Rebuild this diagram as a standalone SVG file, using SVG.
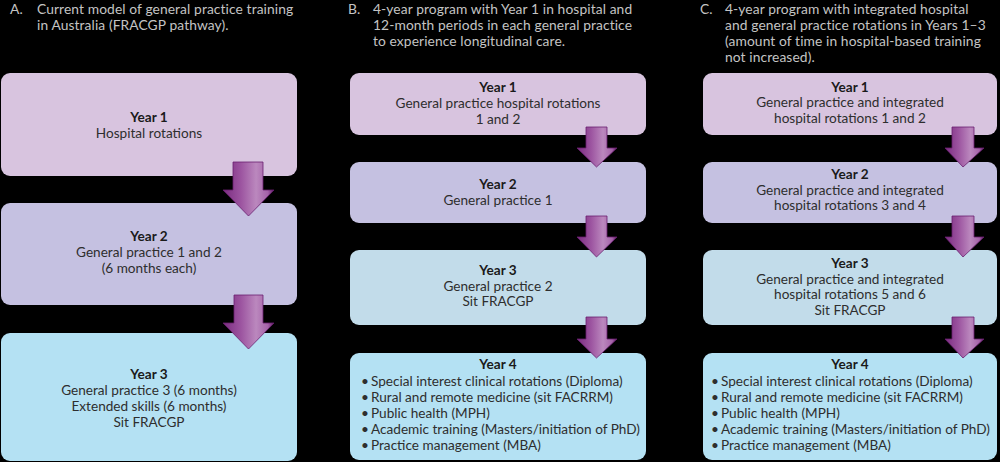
<svg xmlns="http://www.w3.org/2000/svg" width="1000" height="462" viewBox="0 0 1000 462">
<defs>
<linearGradient id="arr" x1="0" y1="0" x2="1" y2="0">
<stop offset="0" stop-color="#7a2c80"/>
<stop offset="0.35" stop-color="#9c54a0"/>
<stop offset="0.65" stop-color="#bb88be"/>
<stop offset="0.88" stop-color="#a462a8"/>
<stop offset="1" stop-color="#5e1865"/>
</linearGradient>
<style>
.hd{font-family:Lato,"Liberation Sans",sans-serif;font-size:13.8px;fill:#c4c4c4;letter-spacing:0.1px}
.t{font-family:Lato,"Liberation Sans",sans-serif;font-size:13.6px;fill:#2e2e2e;text-anchor:middle}
.b{font-weight:bold;fill:#1a1a1a}
.l{font-family:Lato,"Liberation Sans",sans-serif;font-size:13.6px;fill:#2e2e2e}
.y1{fill:#d8c4df}
.y2{fill:#c5c1e1}
.y3a{fill:#b4e1f3}
.y3{fill:#c2dcea}
.y4{fill:#b4e1f3}
.arw{fill:url(#arr);stroke:#6a1f70;stroke-width:0.8}
</style>
</defs>
<rect width="1000" height="462" fill="#000"/>
<g id="headers">
<text class="hd" x="10" y="14">A.</text>
<text class="hd" x="37" y="14">Current model of general practice training</text>
<text class="hd" x="37" y="30">in Australia (FRACGP pathway).</text>
<text class="hd" x="348" y="14">B.</text>
<text class="hd" x="373" y="14">4-year program with Year 1 in hospital and</text>
<text class="hd" x="373" y="30">12-month periods in each general practice</text>
<text class="hd" x="373" y="46">to experience longitudinal care.</text>
<text class="hd" x="700" y="14">C.</text>
<text class="hd" x="725" y="14">4-year program with integrated hospital</text>
<text class="hd" x="725" y="30">and general practice rotations in Years 1–3</text>
<text class="hd" x="725" y="46">(amount of time in hospital-based training</text>
<text class="hd" x="725" y="62">not increased).</text>
</g>
<g id="a-year1">
<rect class="y1" x="1" y="73" width="296" height="103" rx="9"/>
<text class="t b" x="149" y="122">Year 1</text>
<text class="t" x="149" y="138">Hospital rotations</text>
</g>
<g id="a-year2">
<rect class="y2" x="1" y="203" width="296" height="102" rx="9"/>
<text class="t b" x="149" y="241">Year 2</text>
<text class="t" x="149" y="257">General practice 1 and 2</text>
<text class="t" x="149" y="273">(6 months each)</text>
</g>
<g id="a-year3">
<rect class="y3a" x="1" y="333" width="296" height="128" rx="9"/>
<text class="t b" x="149" y="379">Year 3</text>
<text class="t" x="149" y="395">General practice 3 (6 months)</text>
<text class="t" x="149" y="411">Extended skills (6 months)</text>
<text class="t" x="149" y="427">Sit FRACGP</text>
</g>
<g id="b-year1">
<rect class="y1" x="350" y="73" width="296" height="62" rx="9"/>
<text class="t b" x="498" y="92">Year 1</text>
<text class="t" x="498" y="108">General practice hospital rotations</text>
<text class="t" x="498" y="124">1 and 2</text>
</g>
<g id="b-year2">
<rect class="y2" x="350" y="162" width="296" height="61" rx="9"/>
<text class="t b" x="498" y="189">Year 2</text>
<text class="t" x="498" y="205">General practice 1</text>
</g>
<g id="b-year3">
<rect class="y3" x="350" y="250" width="296" height="75" rx="9"/>
<text class="t b" x="498" y="275">Year 3</text>
<text class="t" x="498" y="291">General practice 2</text>
<text class="t" x="498" y="306">Sit FRACGP</text>
</g>
<g id="b-year4">
<rect class="y4" x="350" y="353" width="296" height="107" rx="9"/>
<text class="t b" x="498" y="369">Year 4</text>
<text class="l" x="361" y="386">•</text><text class="l" x="371" y="386">Special interest clinical rotations (Diploma)</text>
<text class="l" x="361" y="402">•</text><text class="l" x="371" y="402">Rural and remote medicine (sit FACRRM)</text>
<text class="l" x="361" y="418">•</text><text class="l" x="371" y="418">Public health (MPH)</text>
<text class="l" x="361" y="434">•</text><text class="l" x="371" y="434">Academic training (Masters/initiation of PhD)</text>
<text class="l" x="361" y="450">•</text><text class="l" x="371" y="450">Practice management (MBA)</text>
</g>
<g id="c-year1">
<rect class="y1" x="703" y="73" width="294" height="62" rx="9"/>
<text class="t b" x="850" y="92">Year 1</text>
<text class="t" x="850" y="107">General practice and integrated</text>
<text class="t" x="850" y="123">hospital rotations 1 and 2</text>
</g>
<g id="c-year2">
<rect class="y2" x="703" y="162" width="294" height="61" rx="9"/>
<text class="t b" x="850" y="179">Year 2</text>
<text class="t" x="850" y="195">General practice and integrated</text>
<text class="t" x="850" y="210">hospital rotations 3 and 4</text>
</g>
<g id="c-year3">
<rect class="y3" x="703" y="250" width="294" height="75" rx="9"/>
<text class="t b" x="850" y="268">Year 3</text>
<text class="t" x="850" y="284">General practice and integrated</text>
<text class="t" x="850" y="299">hospital rotations 5 and 6</text>
<text class="t" x="850" y="315">Sit FRACGP</text>
</g>
<g id="c-year4">
<rect class="y4" x="703" y="353" width="294" height="107" rx="9"/>
<text class="t b" x="850" y="369">Year 4</text>
<text class="l" x="711" y="386">•</text><text class="l" x="721" y="386">Special interest clinical rotations (Diploma)</text>
<text class="l" x="711" y="402">•</text><text class="l" x="721" y="402">Rural and remote medicine (sit FACRRM)</text>
<text class="l" x="711" y="418">•</text><text class="l" x="721" y="418">Public health (MPH)</text>
<text class="l" x="711" y="434">•</text><text class="l" x="721" y="434">Academic training (Masters/initiation of PhD)</text>
<text class="l" x="711" y="450">•</text><text class="l" x="721" y="450">Practice management (MBA)</text>
</g>
<g id="connectors">
<path class="arw" d="M233,162 H263 V190 H274 L248.5,216 L223,190 H233 Z"/>
<path class="arw" d="M234,295 H263 V323 H274 L248.5,349 L223,323 H234 Z"/>
<path class="arw" d="M586,127 H607 V148 H617 L596.5,167 L577,148 H586 Z"/>
<path class="arw" d="M586,216 H607 V237 H617 L596.5,257 L577,237 H586 Z"/>
<path class="arw" d="M586,317 H607 V339 H617 L596.5,358 L577,339 H586 Z"/>
<path class="arw" d="M952,127 H974 V148 H984 L963,167 L945,148 H952 Z"/>
<path class="arw" d="M952,216 H974 V237 H984 L963,257 L945,237 H952 Z"/>
<path class="arw" d="M952,317 H974 V339 H984 L963,358 L945,339 H952 Z"/>
</g>
</svg>
